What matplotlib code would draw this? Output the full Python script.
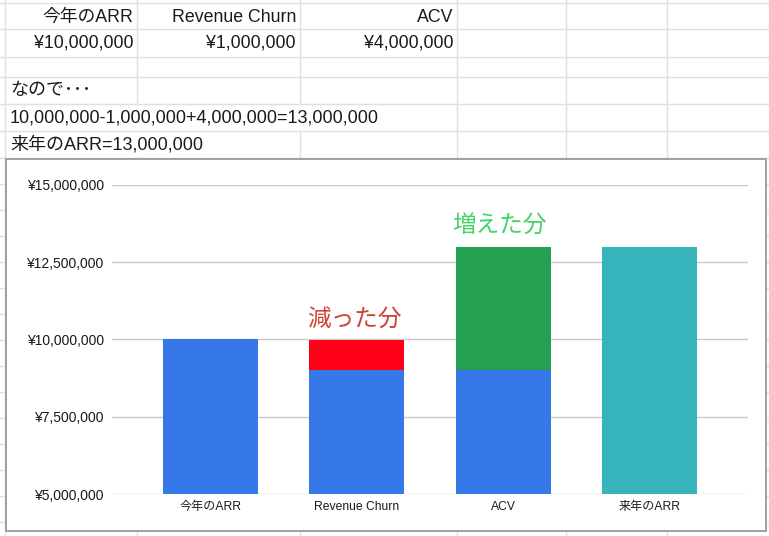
import matplotlib
matplotlib.use("Agg")
import matplotlib.pyplot as plt
from matplotlib.patches import Rectangle
from matplotlib.ticker import FuncFormatter

plt.rcParams['font.family'] = ['Liberation Sans', 'Noto Sans CJK JP', 'DejaVu Sans']

# ---- data ----
categories = ['今年のARR', 'Revenue Churn', 'ACV', '来年のARR']
blue_vals = [10_000_000, 9_000_000, 9_000_000, 0]
churn_vals = [0, 1_000_000, 0, 0]
acv_vals = [0, 0, 4_000_000, 0]
next_vals = [0, 0, 0, 13_000_000]
y_ticks = [5_000_000, 7_500_000, 10_000_000, 12_500_000, 15_000_000]

header_cells = ['今年のARR', 'Revenue Churn', 'ACV']
value_cells = ['¥10,000,000', '¥1,000,000', '¥4,000,000']
note_lines = ['なので･･･', '10,000,000-1,000,000+4,000,000=13,000,000', '来年のARR=13,000,000']

W, H = 769, 536
fig = plt.figure(figsize=(W / 100, H / 100), dpi=100)

# ---- spreadsheet background ----
bg = fig.add_axes([0, 0, 1, 1])
bg.set_xlim(0, W)
bg.set_ylim(H, 0)
bg.axis('off')
grid_c = '#e0e0e0'
row_lines = [3, 29, 57, 77, 104, 131, 158, 184, 210, 236, 262, 288, 314, 340, 366, 392, 418, 444, 470, 496, 522]
col_lines = [5, 137, 300, 457, 566, 667]
for y in row_lines:
    bg.plot([0, W], [y, y], color=grid_c, lw=1)
# vertical lines, hidden where text overflows
for x in col_lines:
    if x == 5 or x >= 457:
        segs = [(0, H)]
    elif x == 300:
        segs = [(0, 104), (131, H)]
    else:
        segs = [(0, 104), (158, H)]
    for s0, s1 in segs:
        bg.plot([x, x], [s0, s1], color=grid_c, lw=1)

txt_c = '#1a1a1a'
right_edges = [133, 296, 453]
for xr, t in zip(right_edges, header_cells):
    bg.text(xr, 17, t, ha='right', va='center', fontsize=12.8, color=txt_c)
for xr, t in zip(right_edges, value_cells):
    bg.text(xr, 43, t, ha='right', va='center', fontsize=12.8, color=txt_c)
for yc, t in zip([90, 118, 145], note_lines):
    bg.text(10, yc, t, ha='left', va='center', fontsize=13, color=txt_c)

# chart frame
bg.add_patch(Rectangle((6, 159), 760, 372, facecolor='white', edgecolor='#9a9a9a', lw=1.3, zorder=5))

# ---- chart ----
left, right = 112 / W, 748 / W
bottom, top = (H - 494) / H, (H - 185) / H
ax = fig.add_axes([left, bottom, right - left, top - bottom], zorder=10)
ax.patch.set_alpha(0)

x = list(range(len(categories)))
bw = 0.65
ax.bar(x, blue_vals, width=bw, color='#3778e8', zorder=3)
ax.bar(x, churn_vals, width=bw, bottom=blue_vals, color='#ff0018', zorder=3)
ax.bar(x, acv_vals, width=bw, bottom=blue_vals, color='#24a050', zorder=3)
ax.bar(x, next_vals, width=bw, color='#37b4bc', zorder=3)

ax.set_xlim(-0.67, 3.67)
ax.set_ylim(y_ticks[0], y_ticks[-1])
ax.set_yticks(y_ticks)
ax.yaxis.set_major_formatter(FuncFormatter(lambda v, p: '¥{:,.0f}'.format(v)))
ax.set_xticks(x)
ax.set_xticklabels(categories, fontsize=8.7, color='#1a1a1a')
ax.tick_params(axis='y', length=0, pad=6, labelsize=10, labelcolor='#1a1a1a')
ax.tick_params(axis='x', length=0, pad=5)
ax.grid(axis='y', color='#c8c8c8', lw=1, zorder=0)
for s in ax.spines.values():
    s.set_visible(False)

churn_top = blue_vals[1] + churn_vals[1]
acv_top = blue_vals[2] + acv_vals[2]
ax.annotate('減った分', (1, churn_top), xytext=(-2, 14), textcoords='offset points',
            ha='center', va='center', fontsize=17, color='#cc4433', zorder=5)
ax.annotate('増えた分', (2, acv_top), xytext=(-3, 15), textcoords='offset points',
            ha='center', va='center', fontsize=17, color='#44d466', zorder=5)

fig.savefig('out.png', dpi=100)
